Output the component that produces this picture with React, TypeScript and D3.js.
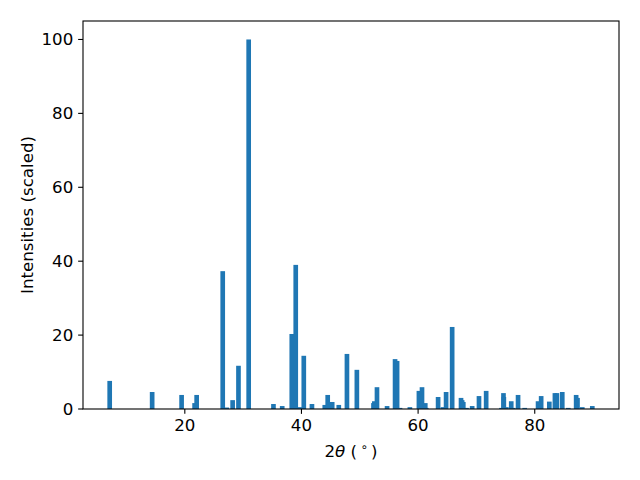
import React, { useEffect, useRef } from 'react'
import * as d3 from 'd3'

// peak positions (2theta, degrees) and scaled intensities
const twoTheta = [7.12, 14.4, 19.45, 21.68, 22.03, 26.5, 27.19, 28.2, 29.2, 30.95, 35.2, 36.7, 38.34, 39.02, 39.74, 40.4, 41.8, 44.0, 44.5, 45.27, 46.4, 47.8, 49.5, 52.35, 52.5, 52.95, 54.68, 56.05, 56.4, 56.9, 58.59, 60.14, 60.67, 61.23, 61.4, 63.43, 64.26, 64.8, 65.84, 67.36, 67.55, 67.75, 68.3, 69.27, 70.44, 71.67, 74.3, 74.64, 74.7, 75.14, 75.97, 76.3, 77.14, 78.28, 80.57, 81.1, 82.5, 83.46, 83.8, 84.72, 85.75, 87.1, 87.33, 88.15, 89.87]
const intensity = [7.6, 4.6, 3.8, 1.6, 3.8, 37.3, 0.4, 2.4, 11.7, 100, 1.35, 0.8, 20.3, 39.0, 0.5, 14.4, 1.35, 1.1, 3.8, 1.9, 1.1, 14.9, 10.6, 1.6, 2.1, 5.9, 0.8, 13.5, 13.0, 0.3, 0.5, 4.9, 5.9, 1.6, 0.3, 3.25, 0.5, 4.6, 22.2, 3.0, 2.4, 1.9, 0.3, 0.8, 3.5, 4.9, 0.3, 4.3, 3.25, 0.5, 2.1, 0.3, 3.8, 0.3, 2.1, 3.5, 2.0, 4.3, 4.3, 4.6, 0.3, 3.8, 3.0, 0.5, 0.8]
const xTicks = [20, 40, 60, 80]
const yTicks = [0, 20, 40, 60, 80, 100]
const barWidth = 0.8

const W = 640, H = 480
const margin = { left: 83, right: 21, top: 21, bottom: 71 }
const FONT = '"DejaVu Sans", sans-serif'
const FS = 16.67
const TICK = 4.86

export default function App() {
  const ref = useRef<SVGSVGElement>(null)

  useEffect(() => {
    const svg = d3.select(ref.current)
    svg.selectAll('*').remove()
    const x0 = margin.left, x1 = W - margin.right
    const y0 = margin.top, y1 = H - margin.bottom

    // matplotlib style 5% margins on x, sticky zero on y
    const lo = d3.min(twoTheta)! - barWidth / 2
    const hi = d3.max(twoTheta)! + barWidth / 2
    const pad = (hi - lo) * 0.05
    const x = d3.scaleLinear().domain([lo - pad, hi + pad]).range([x0, x1])
    const ymax = d3.max(intensity)! * 1.05
    const y = d3.scaleLinear().domain([0, ymax]).range([y1, y0])

    const data = twoTheta.map((t, i) => ({ t, v: intensity[i] }))
    const g = svg.append('g')
    g.selectAll('rect.bar').data(data).enter().append('rect')
      .attr('class', 'bar')
      .attr('x', d => x(d.t - barWidth / 2))
      .attr('width', d => x(d.t + barWidth / 2) - x(d.t - barWidth / 2))
      .attr('y', d => y(d.v))
      .attr('height', d => y(0) - y(d.v))
      .attr('fill', '#1f77b4')

    // frame
    svg.append('rect')
      .attr('x', x0).attr('y', y0)
      .attr('width', x1 - x0).attr('height', y1 - y0)
      .attr('fill', 'none').attr('stroke', '#000').attr('stroke-width', 1.1)

    // x ticks
    const xt = svg.append('g')
    xTicks.forEach(t => {
      xt.append('line').attr('x1', x(t)).attr('x2', x(t))
        .attr('y1', y1).attr('y2', y1 + TICK)
        .attr('stroke', '#000').attr('stroke-width', 1.1)
      xt.append('text').text(t).attr('x', x(t)).attr('y', y1 + 2 * TICK + 12.6)
        .attr('text-anchor', 'middle').attr('font-family', FONT).attr('font-size', FS)
    })
    // y ticks
    const yt = svg.append('g')
    yTicks.forEach(t => {
      yt.append('line').attr('x1', x0 - TICK).attr('x2', x0)
        .attr('y1', y(t)).attr('y2', y(t))
        .attr('stroke', '#000').attr('stroke-width', 1.1)
      yt.append('text').text(t).attr('x', x0 - 2 * TICK).attr('y', y(t)).attr('dy', '0.35em')
        .attr('text-anchor', 'end').attr('font-family', FONT).attr('font-size', FS)
    })

    // x label: 2θ (°)
    const xl = svg.append('text')
      .attr('x', (x0 + x1) / 2).attr('y', 457)
      .attr('text-anchor', 'middle').attr('font-family', FONT).attr('font-size', FS)
    xl.append('tspan').text('2')
    xl.append('tspan').text('θ').attr('font-style', 'italic')
    xl.append('tspan').text(' (\u2009')
    xl.append('tspan').text('∘').attr('font-size', FS * 0.7).attr('dy', -6)
    xl.append('tspan').text('\u2009)').attr('dy', 6)

    // y label
    svg.append('text')
      .text('Intensities (scaled)')
      .attr('transform', `translate(32.5,${(y0 + y1) / 2}) rotate(-90)`)
      .attr('text-anchor', 'middle').attr('font-family', FONT).attr('font-size', FS)
  }, [])

  return (
    <svg ref={ref} width={W} height={H}
      style={{ position: 'absolute', left: 0, top: 0, background: '#fff' }} />
  )
}
